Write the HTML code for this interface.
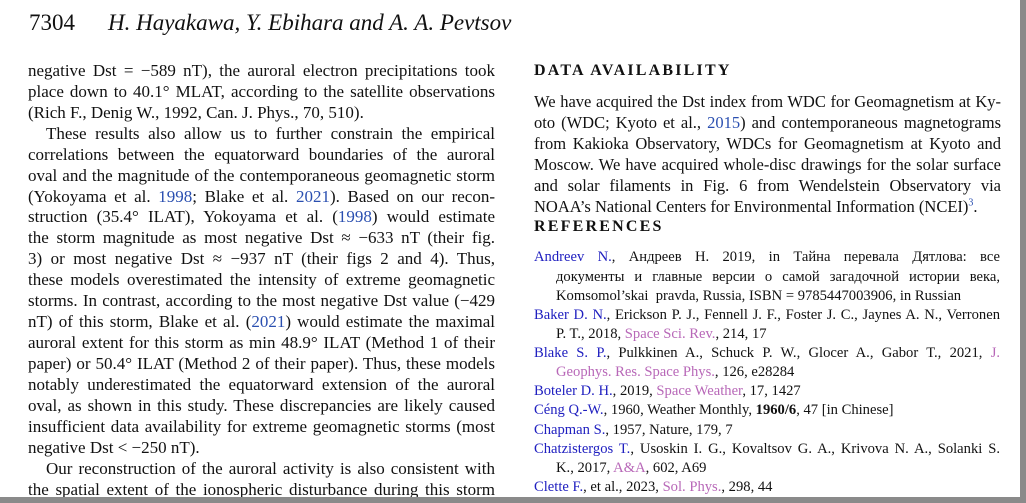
<!DOCTYPE html>
<html><head><meta charset="utf-8"><style>
html,body{margin:0;padding:0}
body{width:1026px;height:503px;background:#8a8a8a;position:relative;overflow:hidden;font-family:"Liberation Serif",serif;color:#111}
#pg{position:absolute;left:0;top:0;width:1020px;height:497px;background:#fff;overflow:hidden}
.l{position:absolute;height:21px;line-height:21px;font-size:17px;white-space:nowrap}
.j{text-align:justify;text-align-last:justify;white-space:normal;overflow:hidden}
.L{left:28px;width:467px}
.R{left:534px;width:467px;font-size:16.5px}
.r{position:absolute;height:19px;line-height:19px;font-size:14.6px;white-space:nowrap}
.r1{left:534px;width:466px}
.r2{left:556px;width:444px}
.b{color:#2020c0}
.p{color:#b868b8}
.c{color:#2a4fb0}
</style></head><body><div id="pg">
<div style="position:absolute;left:29px;top:9px;font-size:23px;line-height:28px">7304</div>
<div style="position:absolute;left:108px;top:9px;font-size:23px;line-height:28px;font-style:italic">H. Hayakawa, Y. Ebihara and A. A. Pevtsov</div>

<div class="l L j" style="top:60px">negative Dst = −589 nT), the auroral electron precipitations took</div>
<div class="l L j" style="top:81px">place down to 40.1° MLAT, according to the satellite observations</div>
<div class="l L" style="top:102px">(Rich F., Denig W., 1992, Can. J. Phys., 70, 510).</div>
<div class="l L j" style="top:123px;left:46px;width:449px">These results also allow us to further constrain the empirical</div>
<div class="l L j" style="top:144px">correlations between the equatorward boundaries of the auroral</div>
<div class="l L j" style="top:165px">oval and the magnitude of the contemporaneous geomagnetic storm</div>
<div class="l L j" style="top:186px">(Yokoyama et al. <span class="c">1998</span>; Blake et al. <span class="c">2021</span>). Based on our recon-</div>
<div class="l L j" style="top:206px">struction (35.4° ILAT), Yokoyama et al. (<span class="c">1998</span>) would estimate</div>
<div class="l L j" style="top:227px">the storm magnitude as most negative Dst ≈ −633 nT (their fig.</div>
<div class="l L j" style="top:248px">3) or most negative Dst ≈ −937 nT (their figs 2 and 4). Thus,</div>
<div class="l L j" style="top:269px">these models overestimated the intensity of extreme geomagnetic</div>
<div class="l L j" style="top:290px">storms. In contrast, according to the most negative Dst value (−429</div>
<div class="l L j" style="top:311px">nT) of this storm, Blake et al. (<span class="c">2021</span>) would estimate the maximal</div>
<div class="l L j" style="top:332px">auroral extent for this storm as min 48.9° ILAT (Method 1 of their</div>
<div class="l L j" style="top:353px">paper) or 50.4° ILAT (Method 2 of their paper). Thus, these models</div>
<div class="l L j" style="top:374px">notably underestimated the equatorward extension of the auroral</div>
<div class="l L j" style="top:395px">oval, as shown in this study. These discrepancies are likely caused by</div>
<div class="l L j" style="top:416px">insufficient data availability for extreme geomagnetic storms (most</div>
<div class="l L" style="top:437px">negative Dst &lt; −250 nT).</div>
<div class="l L j" style="top:458px;left:46px;width:449px">Our reconstruction of the auroral activity is also consistent with</div>
<div class="l L j" style="top:479px">the spatial extent of the ionospheric disturbance during this storm</div>

<div class="l" style="left:534px;top:60px;font-weight:bold;letter-spacing:2.2px;font-size:16px">DATA AVAILABILITY</div>
<div class="l R j" style="top:91px">We have acquired the Dst index from WDC for Geomagnetism at Ky-</div>
<div class="l R j" style="top:112px">oto (WDC; Kyoto et al., <span class="c">2015</span>) and contemporaneous magnetograms</div>
<div class="l R j" style="top:133px">from Kakioka Observatory, WDCs for Geomagnetism at Kyoto and</div>
<div class="l R j" style="top:154px">Moscow. We have acquired whole-disc drawings for the solar surface</div>
<div class="l R j" style="top:175px">and solar filaments in Fig. 6 from Wendelstein Observatory via</div>
<div class="l R" style="top:196px">NOAA’s National Centers for Environmental Information (NCEI)<sup class="c" style="font-size:10px;line-height:0">3</sup>.</div>
<div class="l" style="left:534px;top:216px;font-weight:bold;letter-spacing:2.2px;font-size:16px">REFERENCES</div>

<div class="r r1 j" style="top:248px"><span class="b">Andreev N.</span>, Андреев Н. 2019, in Тайна перевала Дятлова: все</div>
<div class="r r2 j" style="top:268px">документы и главные версии о самой загадочной истории века,</div>
<div class="r r2" style="top:287px">Komsomol’skai&nbsp; pravda, Russia, ISBN = 9785447003906, in Russian</div>
<div class="r r1 j" style="top:306px"><span class="b">Baker D. N.</span>, Erickson P. J., Fennell J. F., Foster J. C., Jaynes A. N., Verronen</div>
<div class="r r2" style="top:325px">P. T., 2018, <span class="p">Space Sci. Rev.</span>, 214, 17</div>
<div class="r r1 j" style="top:344px"><span class="b">Blake S. P.</span>, Pulkkinen A., Schuck P. W., Glocer A., Gabor T., 2021, <span class="p">J.</span></div>
<div class="r r2" style="top:363px"><span class="p">Geophys. Res. Space Phys.</span>, 126, e28284</div>
<div class="r r1" style="top:382px"><span class="b">Boteler D. H.</span>, 2019, <span class="p">Space Weather</span>, 17, 1427</div>
<div class="r r1" style="top:401px"><span class="b">Céng Q.-W.</span>, 1960, Weather Monthly, <b>1960/6</b>, 47 [in Chinese]</div>
<div class="r r1" style="top:421px"><span class="b">Chapman S.</span>, 1957, Nature, 179, 7</div>
<div class="r r1 j" style="top:440px"><span class="b">Chatzistergos T.</span>, Usoskin I. G., Kovaltsov G. A., Krivova N. A., Solanki S.</div>
<div class="r r2" style="top:459px">K., 2017, <span class="p">A&amp;A</span>, 602, A69</div>
<div class="r r1" style="top:478px"><span class="b">Clette F.</span>, et al., 2023, <span class="p">Sol. Phys.</span>, 298, 44</div>
</div></body></html>
